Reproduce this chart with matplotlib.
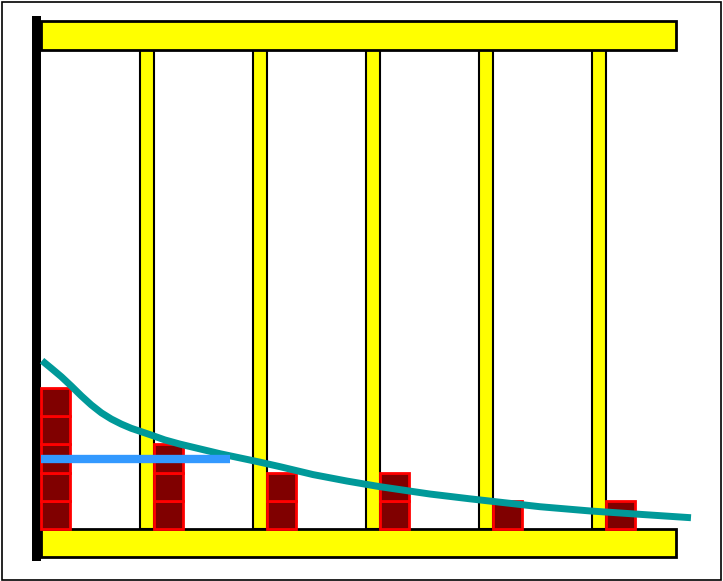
import matplotlib
matplotlib.use('Agg')
import matplotlib.pyplot as plt
from matplotlib.patches import Rectangle

# counts per bin (stacked boxes)
bin_counts = [5, 3, 2, 2, 1, 1]

# teal curve (x in bins, y in boxes)
curve_x = [0.009, 0.091, 0.180, 0.268, 0.357, 0.445, 0.534, 0.622, 0.711, 0.799,
           0.888, 0.976, 1.095, 1.230, 1.407, 1.584, 1.761, 1.938, 2.115, 2.407,
           2.708, 3.000, 3.442, 3.796, 4.062, 4.416, 4.858, 5.301, 5.752]
curve_y = [5.97, 5.70, 5.40, 5.07, 4.72, 4.40, 4.12, 3.90, 3.72, 3.57,
           3.45, 3.33, 3.16, 3.01, 2.84, 2.67, 2.52, 2.37, 2.21, 1.93,
           1.70, 1.50, 1.24, 1.07, 0.95, 0.79, 0.64, 0.52, 0.40]

# blue level line
mean_level = 2.5
mean_end = 1.67

shelf_len = 5.62
shelf_top = 17
post_w = 0.128
box_w = 0.26

fig = plt.figure(figsize=(7.23, 5.81), dpi=100)
ax = fig.add_axes([0, 0, 1, 1])
ax.set_xlim(-41 / 113, (723 - 41) / 113)
ax.set_ylim((529 - 581) / 28.2, 529 / 28.2)
ax.axis('off')

# outer border
fig.patches.append(Rectangle((1.5 / 723, 1.5 / 581), 719.5 / 723, 577.5 / 581,
                             transform=fig.transFigure, fill=False,
                             edgecolor='black', linewidth=1.2))

# posts
posts = list(range(1, len(bin_counts)))
ax.bar([p - post_w for p in posts], shelf_top, width=post_w, bottom=0, align='edge',
       color='yellow', edgecolor='black', linewidth=1.5, zorder=1)

# top and bottom shelves
for y0 in (-1, shelf_top):
    ax.add_patch(Rectangle((0, y0), shelf_len, 1, facecolor='yellow',
                           edgecolor='black', linewidth=2, zorder=2))

# left black pillar
ax.add_patch(Rectangle((-0.08, -1.13), 0.08, 19.33, facecolor='black',
                       edgecolor='none', zorder=3))

# stacked boxes
for level in range(max(bin_counts)):
    xs = [i for i, c in enumerate(bin_counts) if c > level]
    ax.bar(xs, 1, width=box_w, bottom=level, align='edge',
           color='#800000', edgecolor='red', linewidth=2, zorder=4)

ax.plot(curve_x, curve_y, color='#009999', linewidth=5,
        solid_capstyle='butt', solid_joinstyle='round', zorder=5)
ax.plot([0, mean_end], [mean_level, mean_level], color='#3399ff', linewidth=6,
        solid_capstyle='butt', zorder=6)

fig.savefig('out.png', dpi=100)
